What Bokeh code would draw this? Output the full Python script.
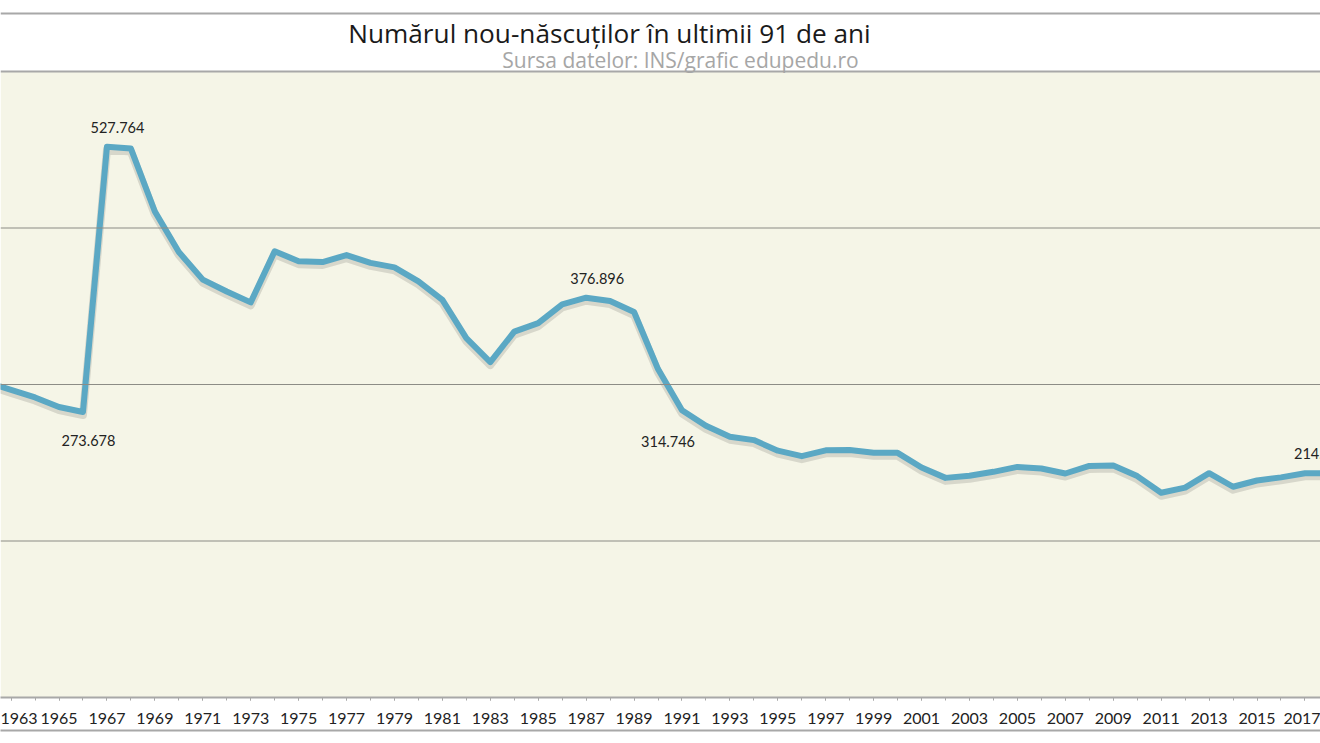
from bokeh.plotting import figure
from bokeh.models import (Range1d, FixedTicker, BoxAnnotation, Span, Label,
                          ColumnDataSource, LinearAxis)
from bokeh.embed import file_html
from bokeh.resources import INLINE
from bokeh.core.properties import value

# ---------------- data (thousands of births) ----------------
years = list(range(1962, 2019))
births = [
    302.0, 294.9, 287.6, 278.4, 273.678, 527.764, 526.1, 465.8, 427.0, 400.5,   # 1962-1971
    389.2, 378.7, 427.7, 418.2, 417.4, 424.0, 416.6, 412.3, 398.9, 381.1,        # 1972-1981
    344.4, 321.5, 350.7, 358.8, 376.896, 383.2, 380.0, 369.5, 314.746, 275.3,    # 1982-1991
    260.4, 250.0, 246.7, 236.6, 231.3, 236.9, 237.3, 234.6, 234.5, 220.4,        # 1992-2001
    210.5, 212.5, 216.3, 221.0, 219.5, 214.7, 221.9, 222.4, 212.2, 196.2,        # 2002-2011
    201.1, 215.0, 202.0, 208.0, 211.0, 214.9, 215.0,                             # 2012-2018
]
tick_years = years[1::2]
tick_labels = [str(y) for y in tick_years]
grid_values = [150, 300, 450]
label_years = [1967, 1966, 1986, 1990, 2017]

title_text = "Numărul nou-născuților în ultimii 91 de ani"
subtitle_text = "Sursa datelor: INS/grafic edupedu.ro"

# ---------------- geometry ----------------
W, H = 1320, 743
FRAME_BOTTOM = 697            # px from top
PX_PER_YEAR = 23.96
PX_PER_K = 626 / 600.0
X0 = 1963 - 10.6 / PX_PER_YEAR
X1 = X0 + W / PX_PER_YEAR
Y1 = FRAME_BOTTOM / PX_PER_K


def px_x(px):
    return X0 + px / PX_PER_YEAR


def px_y(py):
    return (FRAME_BOTTOM - py) / PX_PER_K


FONT = "Lato"
TFONT = "Open Sans"

p = figure(width=W, height=H, output_backend="svg", toolbar_location=None,
           x_range=Range1d(X0, X1), y_range=Range1d(0, Y1),
           y_axis_location=None,
           min_border_left=0, min_border_right=0, min_border_top=0,
           min_border_bottom=H - FRAME_BOTTOM)
p.outline_line_color = None
p.background_fill_color = "white"
p.border_fill_color = "white"
p.xgrid.visible = False
p.ygrid.visible = False

# cream plot area
p.add_layout(BoxAnnotation(bottom=0, top=600, fill_color="#f5f5e7", fill_alpha=1,
                           line_color=None, level="underlay"))

# grid lines
for g in grid_values:
    p.add_layout(Span(location=g, dimension="width", line_color="#8c8c86",
                      line_width=1.2))
p.add_layout(Span(location=600, dimension="width", line_color="#a8a8a8", line_width=2))
p.add_layout(Span(location=px_y(13), dimension="width", line_color="#a8a8a8", line_width=2))

# x axis
ax = p.xaxis[0]
ax.ticker = FixedTicker(ticks=tick_years, minor_ticks=years)
ax.major_label_overrides = {y: s for y, s in zip(tick_years, tick_labels)}
ax.axis_line_color = "#a8a8a8"
ax.axis_line_width = 2
ax.major_tick_line_color = "#a8a8a8"
ax.minor_tick_line_color = "#a8a8a8"
ax.major_tick_out = 3
ax.major_tick_in = 0
ax.minor_tick_out = 3
ax.minor_tick_in = 0
ax.major_label_standoff = 12
ax.major_label_text_font = FONT
ax.major_label_text_font_size = "16px"
ax.major_label_text_color = "#222222"
ax.axis_label = " "
ax.axis_label_text_font_size = "1px"
ax.axis_label_standoff = 0

ax2 = LinearAxis(ticker=FixedTicker(ticks=[]), axis_line_color="#a8a8a8",
                 axis_line_width=2, major_label_text_font_size="0px")
p.add_layout(ax2, "below")

# shadow + line
shadow = [v - 3 / PX_PER_K for v in births]
p.line(years, shadow, line_color="black", line_alpha=0.12, line_width=8,
       line_join="round", line_cap="round")
p.line(years, births, line_color="#5ba8c4", line_width=6,
       line_join="round", line_cap="round")

# data labels
offsets = {1967: (10.5, -19.7), 1966: (5.5, 29), 1986: (35, -25.5),
           1990: (10, 72), 2017: (16, -19.5)}
lab_vals = [births[years.index(y)] for y in label_years]
src = ColumnDataSource(dict(
    x=label_years, y=lab_vals,
    text=[f"{v:.3f}" for v in lab_vals],
    dx=[offsets[y][0] for y in label_years],
    dy=[offsets[y][1] for y in label_years],
))
p.text(x="x", y="y", text="text", x_offset="dx", y_offset="dy", source=src,
       text_align="center", text_baseline="middle",
       text_font=value(FONT), text_font_size="14.5px", text_color="#222222")

# titles
p.add_layout(Label(x=px_x(609), y=px_y(32), text=title_text,
                   text_align="center", text_baseline="middle",
                   text_font=TFONT, text_font_size="26.2px", text_color="#1a1a1a"))
p.add_layout(Label(x=px_x(680), y=px_y(59), text=subtitle_text,
                   text_align="center", text_baseline="middle",
                   text_font=TFONT, text_font_size="21px", text_color="#a6a6a6"))

open("out.html", "w").write(file_html(p, INLINE))
